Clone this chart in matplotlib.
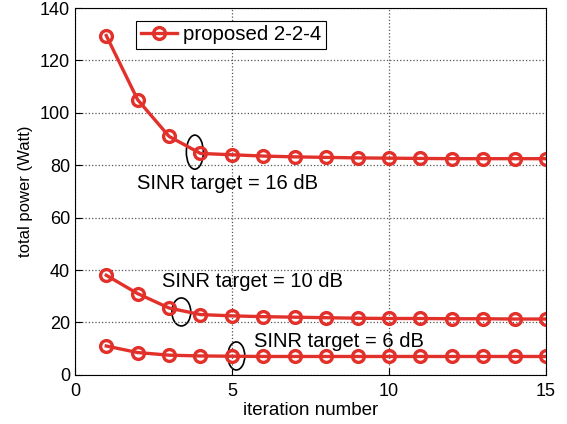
import matplotlib
matplotlib.use('Agg')
import matplotlib.pyplot as plt
from matplotlib.patches import Ellipse

# iteration index
iterations = list(range(1, 16))

# total power for each SINR target (Watt)
power_16db = [129.5, 105, 91, 84.5, 84, 83.5, 83.2, 83, 82.8, 82.7, 82.6, 82.5, 82.5, 82.5, 82.5]
power_10db = [38, 31, 25.5, 23, 22.5, 22.2, 22, 21.8, 21.6, 21.5, 21.5, 21.4, 21.4, 21.3, 21.3]
power_6db = [11, 8.5, 7.5, 7.2, 7.1, 7, 7, 7, 7, 7, 7, 7, 7, 7, 7]

plt.rcParams['font.family'] = ['Liberation Sans', 'DejaVu Sans']

red = '#e2302a'

fig = plt.figure(figsize=(5.67, 4.24), dpi=100)
ax = fig.add_axes([0.132, 0.116, 0.831, 0.865])

style = dict(color=red, lw=2.4, marker='o', ms=8.5, mfc='none', mew=2.4)
ax.plot(iterations, power_16db, label='proposed 2-2-4', **style)
ax.plot(iterations, power_10db, **style)
ax.plot(iterations, power_6db, **style)

# ellipses marking convergence
for cx, cy, w, h in [(3.82, 85, 0.54, 13), (3.39, 24, 0.6, 10.7), (5.14, 7.2, 0.54, 10.7)]:
    ax.add_patch(Ellipse((cx, cy), w, h, fill=False, ec='black', lw=1.2))

ax.text(1.97, 73, 'SINR target = 16 dB', fontsize=14.5, va='center', ha='left')
ax.text(2.77, 35.5, 'SINR target = 10 dB', fontsize=14.5, va='center', ha='left')
ax.text(5.7, 12.6, 'SINR target = 6 dB', fontsize=14.5, va='center', ha='left')

ax.set_xlim(0, 15)
ax.set_ylim(0, 140)
ax.set_xticks([0, 5, 10, 15])
ax.set_yticks(range(0, 141, 20))
ax.tick_params(direction='in', labelsize=13, length=5)
ax.tick_params(axis='x', pad=6)
ax.tick_params(axis='y', pad=3.5)
ax.grid(True, linestyle=':', color='#555555', lw=0.9)

ax.set_xlabel('iteration number', fontsize=13.5, labelpad=1)
ax.set_ylabel('total power (Watt)', fontsize=12, labelpad=5)

leg = ax.legend(loc='upper left', bbox_to_anchor=(0.13, 0.966), fontsize=14.7,
                fancybox=False, framealpha=1, edgecolor='black', handlelength=1.8,
                handletextpad=0.3, borderpad=0.22, borderaxespad=0)
leg.get_frame().set_linewidth(0.8)

plt.savefig('out.png', dpi=100)
